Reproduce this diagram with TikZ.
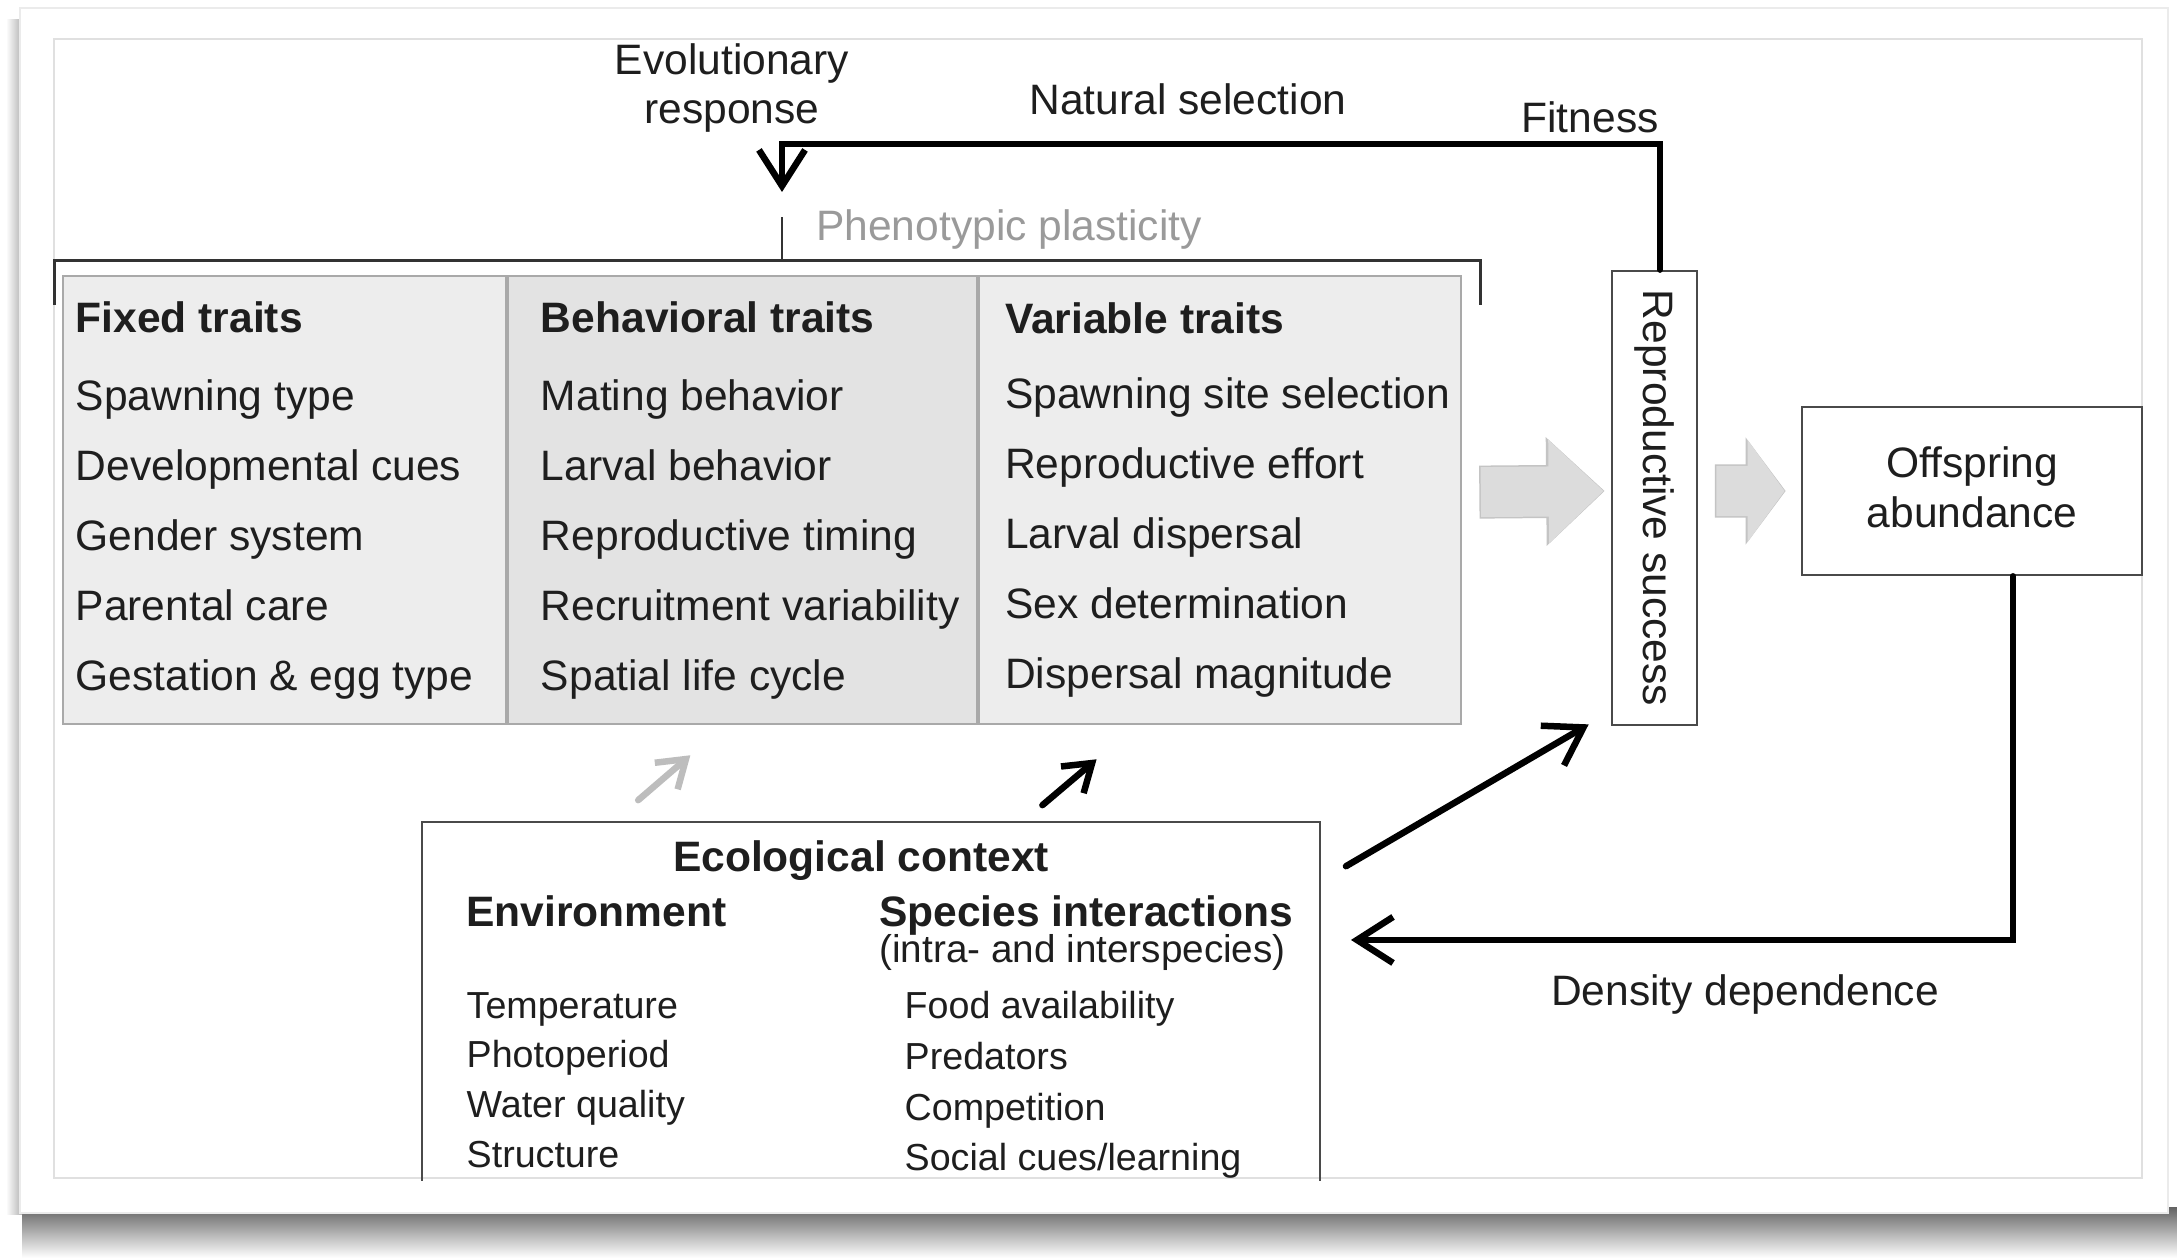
\documentclass[tikz,border=0pt]{standalone}
\usepackage{fontspec}
\setmainfont{Liberation Sans}
\usepackage{xcolor}
\usepackage{tikz}
\usetikzlibrary{arrows.meta, positioning, calc}
\definecolor{inkdark}{HTML}{1E1E1E}
\definecolor{traitfill}{HTML}{EDEDED}
\definecolor{behfill}{HTML}{E3E3E3}
\definecolor{framegray}{HTML}{A9A9A9}
\definecolor{boxline}{HTML}{4A4A4A}
\definecolor{plastgray}{HTML}{9A9A9A}
\definecolor{arrowgray}{HTML}{DCDCDC}
\definecolor{arrowedge}{HTML}{C4C4C4}
\definecolor{smallgray}{HTML}{BDBDBD}
\definecolor{bracketdark}{HTML}{333333}
\definecolor{innerframe}{HTML}{E0E0E0}

\begin{document}
\begin{tikzpicture}[
    x=0.01cm, y=-0.01cm,
    node distance=0pt,
    every node/.style={text=inkdark},
    traitcol/.style={
        draw=framegray, line width=0.02cm, fill=traitfill,
        rectangle, anchor=north west, inner sep=0pt,
        minimum height=4.48cm
    },
    traittext/.style={
        inner sep=0pt, align=left, anchor=west,
        font=\fontsize{12.1}{19.9}\selectfont
    },
    box/.style={
        draw=boxline, line width=0.025cm, fill=white,
        rectangle, inner sep=0pt, align=center,
        font=\fontsize{12.1}{14.2}\selectfont
    },
    lbl/.style={font=\fontsize{12.1}{14.2}\selectfont, inner sep=1pt, align=center},
    hdr/.style={font=\bfseries\fontsize{12.1}{14.6}\selectfont, inner sep=1pt},
    item/.style={inner sep=0pt, align=left, anchor=west},
    arr/.style={
        -{Straight Barb[length=3.6mm, width=4.6mm]},
        line width=0.065cm, line cap=round, draw=black
    },
    smarr/.style={
        -{Straight Barb[length=2.6mm, width=3.5mm]},
        line width=0.065cm, line cap=round, draw=black
    },
    bigedge/.style={line width=0.53cm, draw=arrowedge},
    bigarr/.style={line width=0.5cm, draw=arrowgray},
    brack/.style={draw=bracketdark, line width=0.03cm},
]
\useasboundingbox (0,0) rectangle (2177,1258);

% card and shadow
\shade[top color=black!60, bottom color=white] (22,1208) rectangle (2177,1258);
\shade[left color=white, right color=black!30] (6,20) rectangle (22,1215);
\filldraw[fill=white, draw=black!8] (20,8) rectangle (2168,1213);
\draw[innerframe, line width=0.02cm] (54,39) rectangle (2142,1178);

% trait columns
\node[traitcol, minimum width=4.43cm] (fixedcol) at (62,275) {};
\node[traitcol, fill=behfill, minimum width=4.68cm, right=of fixedcol] (behcol) {};
\node[traitcol, minimum width=4.82cm, right=of behcol] (varcol) {};

\node[traittext, right=0.13cm of fixedcol.west] (fixedtext) {\textbf{Fixed traits}\\[2.3pt]
    Spawning type\\ Developmental cues\\ Gender system\\ Parental care\\ Gestation \& egg type};
\node[traittext, right=0.33cm of behcol.west] (behtext) {\textbf{Behavioral traits}\\[2.3pt]
    Mating behavior\\ Larval behavior\\ Reproductive timing\\ Recruitment variability\\ Spatial life cycle};
\node[traittext, right=0.27cm of varcol.west] (vartext) {\textbf{Variable traits}\\[1.5pt]
    Spawning site selection\\ Reproductive effort\\ Larval dispersal\\ Sex determination\\ Dispersal magnitude};

% phenotypic plasticity bracket
\draw[brack] ([xshift=-0.07cm, yshift=-0.3cm]fixedcol.north west) |- ([xshift=0.19cm, yshift=0.14cm]varcol.north east) -- ++(0,44);
\coordinate (plast) at (782,261);
\coordinate (evotip) at (782,192);
\draw[bracketdark, line width=0.02cm] (plast) -- ++(0,-44);
\node[lbl, text=plastgray, anchor=west] (plastlab) at (812,230) {Phenotypic plasticity};

% reproductive success and offspring
\node[box, minimum width=0.85cm, minimum height=4.54cm] (rep) at (1654.5,498) {};
\node[lbl, rotate=-90] (reptext) at (rep) {Reproductive success};
\node[box, minimum width=3.4cm, minimum height=1.68cm, text depth=2.3pt] (offs) at (1972,491) {Offspring\\abundance};

\draw[bigedge, -{Triangle[length=0.585cm, width=1.05cm]}] ([xshift=0.175cm, yshift=0.08cm]varcol.east) -- ([xshift=-0.06cm, yshift=0.07cm]rep.west);
\draw[bigarr, -{Triangle[length=0.55cm, width=1cm]}] ([xshift=0.19cm, yshift=0.08cm]varcol.east) -- ([xshift=-0.07cm, yshift=0.07cm]rep.west);
\draw[bigedge, -{Triangle[length=0.4cm, width=1.05cm]}] ([xshift=0.165cm, yshift=0.07cm]rep.east) -- ([xshift=-0.15cm]offs.west);
\draw[bigarr, -{Triangle[length=0.37cm, width=1cm]}] ([xshift=0.18cm, yshift=0.07cm]rep.east) -- ([xshift=-0.16cm]offs.west);

% ecological context
\node[minimum width=8.96cm, minimum height=3.57cm, inner sep=0pt] (eco) at (871,1001.5) {};
\draw[boxline, line width=0.025cm] (eco.south west) |- (eco.north) -| (eco.south east);
\node[hdr] (ecohead) at (861,861) {Ecological context};
\node[hdr, anchor=base west] (envhead) at (462,927) {Environment};
\node[hdr, anchor=base west] (spechead) at (875,927) {Species interactions};
\node[lbl, font=\fontsize{11}{13}\selectfont, anchor=east] (intra) at (1290,953) {(intra- and interspecies)};
\node[item, font=\fontsize{10.7}{14.1}\selectfont] (envlist) at (466,1080) {Temperature\\ Photoperiod\\ Water quality\\ Structure};
\node[item, font=\fontsize{10.7}{14.4}\selectfont] (speclist) at (904,1085) {Food availability\\ Predators\\ Competition\\ Social cues/learning};

% feedback loops
\node[lbl] (evolab) at (732,88) {Evolutionary\\response};
\node[lbl] (natlab) at (1188,99) {Natural selection};
\node[lbl] (fitlab) at (1590,117) {Fitness};
\node[lbl] (denslab) at (1745,995) {Density dependence};

\draw[arr] ([xshift=0.055cm]rep.north) |- ($(evotip)+(0,-48)$) -- (evotip);
\coordinate (densend) at ([xshift=0.31cm, yshift=0.615cm]eco.east);
\draw[arr] ([xshift=0.41cm]offs.south) |- (densend);
\draw[arr] ([xshift=0.26cm, yshift=-0.44cm]eco.north east) -- ([xshift=-0.22cm, yshift=0.02cm]rep.south west);

\draw[smarr, draw=smallgray] ([xshift=2.16cm, yshift=0.22cm]eco.north west) -- ([xshift=1.83cm, yshift=-0.3cm]behcol.south west);
\draw[smarr] ([xshift=6.2cm, yshift=0.17cm]eco.north west) -- ([xshift=1.19cm, yshift=-0.34cm]varcol.south west);
\end{tikzpicture}
\end{document}
